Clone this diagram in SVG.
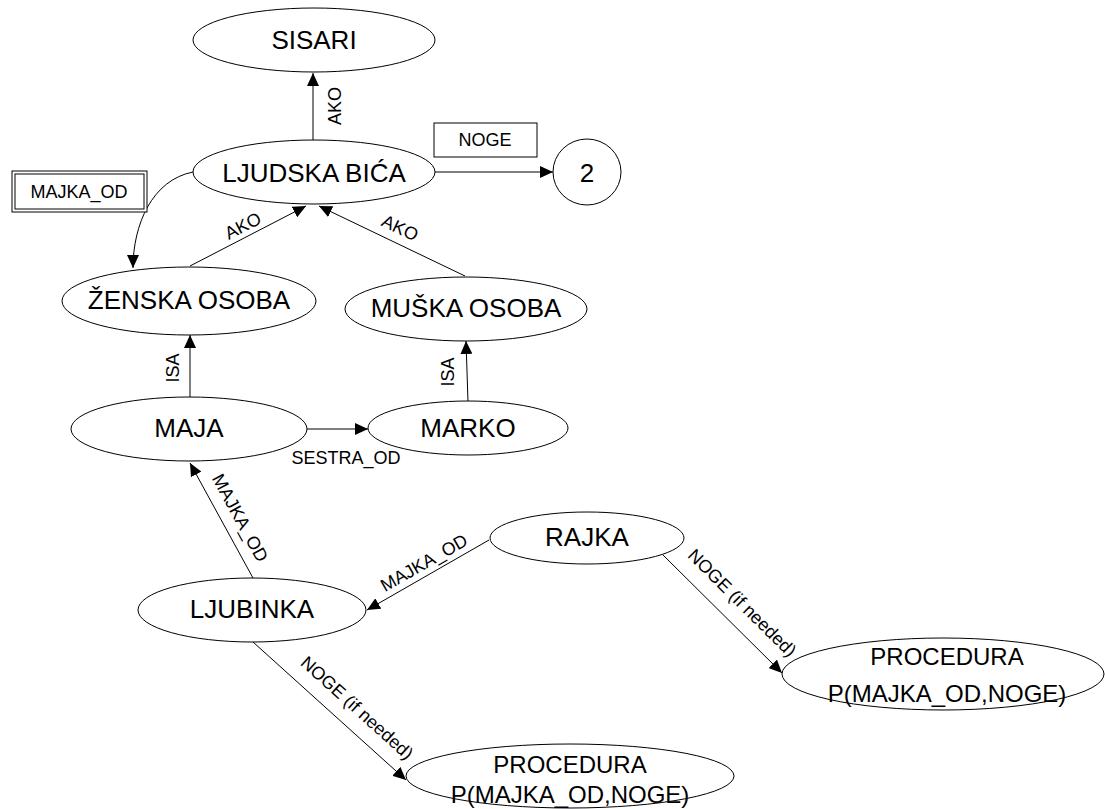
<svg xmlns="http://www.w3.org/2000/svg" width="1105" height="809" viewBox="0 0 1105 809">
<style>
.n{fill:#fff;stroke:#000;stroke-width:1}
.e{fill:none;stroke:#000;stroke-width:1}
.t{font-family:"Liberation Sans",Arial,sans-serif;font-size:26px;fill:#000;text-anchor:middle;dominant-baseline:central}
.p{font-family:"Liberation Sans",Arial,sans-serif;font-size:24px;fill:#000;text-anchor:middle}
.l{font-family:"Liberation Sans",Arial,sans-serif;font-size:18px;fill:#000;text-anchor:middle;dominant-baseline:central}
</style>
<defs>
<marker id="arr" markerUnits="userSpaceOnUse" markerWidth="14" markerHeight="12" refX="13" refY="6" orient="auto">
<path d="M0,0 L13,6 L0,12 z" fill="#000"/>
</marker>
</defs>
<rect width="1105" height="809" fill="#fff"/>
<g id="connectors">
<line class="e" x1="313" y1="140" x2="313" y2="73" marker-end="url(#arr)"/>
<text class="l" transform="translate(335,106) rotate(-90)">AKO</text>
<line class="e" x1="435" y1="172" x2="553" y2="172" marker-end="url(#arr)"/>
<path class="e" d="M193,172 C152,180 133,225 133,268" marker-end="url(#arr)"/>
<line class="e" x1="190" y1="266" x2="306" y2="206" marker-end="url(#arr)"/>
<text class="l" transform="translate(243,226) rotate(-27.3)">AKO</text>
<line class="e" x1="465" y1="276" x2="319" y2="206" marker-end="url(#arr)"/>
<text class="l" transform="translate(400,228) rotate(25.6)">AKO</text>
<line class="e" x1="190" y1="397" x2="190" y2="335" marker-end="url(#arr)"/>
<text class="l" transform="translate(173,368) rotate(-90)">ISA</text>
<line class="e" x1="468" y1="402" x2="466" y2="341" marker-end="url(#arr)"/>
<text class="l" transform="translate(448,372) rotate(-90)">ISA</text>
<line class="e" x1="307" y1="429" x2="368" y2="429" marker-end="url(#arr)"/>
<text class="l" x="346" y="458">SESTRA_OD</text>
<line class="e" x1="253" y1="578" x2="190" y2="463" marker-end="url(#arr)"/>
<text class="l" transform="translate(240,518) rotate(61.3)">MAJKA_OD</text>
<line class="e" x1="489" y1="540" x2="367" y2="610" marker-end="url(#arr)"/>
<text class="l" transform="translate(424,563) rotate(-29.8)">MAJKA_OD</text>
<line class="e" x1="663" y1="555" x2="782" y2="673" marker-end="url(#arr)"/>
<text class="l" transform="translate(742,603) rotate(44.8)">NOGE (if needed)</text>
<line class="e" x1="253" y1="642" x2="406" y2="780" marker-end="url(#arr)"/>
<text class="l" transform="translate(357,708) rotate(42)">NOGE (if needed)</text>
</g>
<g id="sisari"><ellipse class="n" cx="314" cy="40" rx="121" ry="32"/><text class="t" x="314" y="40">SISARI</text></g>
<g id="ljudska"><ellipse class="n" cx="314" cy="172" rx="121" ry="32"/><text class="t" x="314" y="173">LJUDSKA BIĆA</text></g>
<g id="noge-box"><rect class="n" x="434" y="123" width="103" height="34"/><text class="l" x="485" y="140">NOGE</text></g>
<g id="two"><ellipse class="n" cx="587" cy="172" rx="34" ry="33"/><text class="t" x="587" y="173">2</text></g>
<g id="majka-box"><rect class="n" x="12" y="171" width="135" height="41"/><rect class="n" x="15" y="174" width="129" height="35"/><text class="l" x="79" y="192">MAJKA_OD</text></g>
<g id="zenska"><ellipse class="n" cx="189" cy="301" rx="127" ry="34"/><text class="t" x="189" y="300">ŽENSKA OSOBA</text></g>
<g id="muska"><ellipse class="n" cx="466" cy="309" rx="121" ry="32"/><text class="t" x="466" y="308">MUŠKA OSOBA</text></g>
<g id="maja"><ellipse class="n" cx="189" cy="429" rx="118" ry="32"/><text class="t" x="189" y="428">MAJA</text></g>
<g id="marko"><ellipse class="n" cx="468" cy="428" rx="100" ry="27"/><text class="t" x="468" y="428">MARKO</text></g>
<g id="ljubinka"><ellipse class="n" cx="252" cy="610" rx="114" ry="32"/><text class="t" x="252" y="609">LJUBINKA</text></g>
<g id="rajka"><ellipse class="n" cx="587" cy="538" rx="97" ry="26"/><text class="t" x="587" y="537">RAJKA</text></g>
<g id="proc-right"><ellipse class="n" cx="943" cy="674" rx="161" ry="36"/><text class="p" x="947" y="665">PROCEDURA</text><text class="p" x="947" y="702">P(MAJKA_OD,NOGE)</text></g>
<g id="proc-bottom"><ellipse class="n" cx="570" cy="776" rx="164" ry="32"/><text class="p" x="570" y="773">PROCEDURA</text><text class="p" x="570" y="803">P(MAJKA_OD,NOGE)</text></g>
</svg>
